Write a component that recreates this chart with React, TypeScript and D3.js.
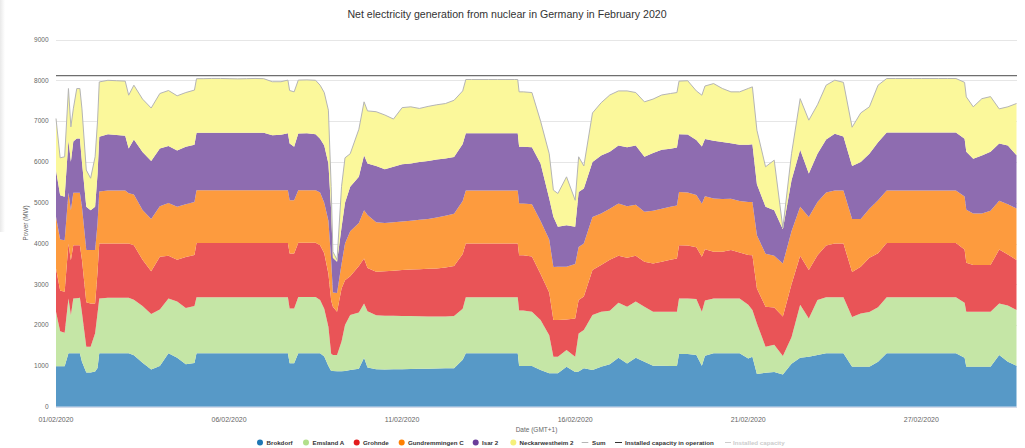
import React from "react";
import * as d3 from "d3";

// Sample times in days after 01/02/2020 00:00 (axis days)
const times = [
  0, 0.12, 0.25, 0.36, 0.43, 0.5, 0.6, 0.69, 0.75, 0.875,
  1.0, 1.13, 1.2, 1.25, 1.5, 1.75, 2.0, 2.1, 2.25, 2.5,
  2.75, 3.0, 3.25, 3.5, 3.75, 4.0, 4.06, 4.25, 4.5, 4.75,
  5.0, 5.25, 5.5, 5.75, 6.0, 6.25, 6.5, 6.7, 6.75, 6.88,
  7.0, 7.25, 7.5, 7.63, 7.75, 7.87, 7.95, 8.0, 8.12, 8.25,
  8.35, 8.5, 8.75, 8.9, 9.0, 9.25, 9.5, 9.75, 10.0, 10.25,
  10.5, 10.75, 11.0, 11.25, 11.5, 11.75, 11.84, 12.0, 12.25, 12.5,
  12.75, 13.0, 13.25, 13.34, 13.38, 13.5, 13.75, 14.0, 14.25, 14.37,
  14.5, 14.75, 15.0, 15.1, 15.25, 15.5, 15.75, 16.0, 16.25, 16.5,
  16.75, 17.0, 17.25, 17.5, 17.75, 17.94, 18.0, 18.25, 18.5, 18.66,
  18.75, 19.0, 19.25, 19.5, 19.75, 20.0, 20.12, 20.25, 20.5, 20.75,
  21.0, 21.25, 21.5, 21.75, 22.0, 22.25, 22.5, 22.75, 23.0, 23.25,
  23.5, 23.75, 24.0, 24.25, 24.5, 24.75, 25.0, 25.25, 25.5, 25.75,
  26.0, 26.25, 26.3, 26.5, 26.75, 27.0, 27.25, 27.5, 27.75,
];

const brokdorf = [
  990, 990, 990, 1310, 1310, 1310, 1310, 1310, 1100, 840,
  840, 860, 948, 1310, 1310, 1310, 1310, 1310, 1260, 1080,
  910, 1000, 1310, 1200, 1040, 1070, 1310, 1310, 1310, 1310,
  1310, 1310, 1310, 1310, 1310, 1310, 1310, 1310, 1063, 1063,
  1310, 1310, 1310, 1310, 1230, 1000, 875, 875, 870, 870,
  875, 900, 930, 1200, 960, 920, 910, 920, 920, 925,
  930, 930, 935, 940, 945, 1150, 1310, 1310, 1310, 1310,
  1310, 1310, 1310, 1310, 1000, 1000, 1000, 900, 820, 820,
  820, 980, 850, 860, 940, 900, 980, 1040, 1200, 1060,
  1200, 1100, 1004, 1004, 1000, 1000, 1290, 1290, 1270, 1004,
  1250, 1310, 1310, 1310, 1310, 1180, 1225, 800, 830, 850,
  790, 1050, 1200, 1225, 1270, 1310, 1310, 1310, 980, 980,
  980, 1100, 1310, 1310, 1310, 1310, 1310, 1310, 1310, 1310,
  1310, 1200, 980, 980, 980, 980, 1265, 1100, 1004,
];
const emslandA = [
  1337, 860, 822, 1344, 935, 1344, 1350, 1360, 1200, 630,
  630, 940, 1342, 1344, 1360, 1360, 1360, 1360, 1360, 1390,
  1360, 1380, 1344, 1380, 1380, 1400, 1370, 1370, 1370, 1370,
  1370, 1370, 1370, 1370, 1370, 1370, 1370, 1370, 1346, 1346,
  1380, 1380, 1380, 1303, 1170, 960, 425, 390, 395, 730,
  1125, 1345, 1380, 1331, 1380, 1320, 1320, 1310, 1300, 1295,
  1285, 1280, 1275, 1270, 1275, 1250, 1370, 1370, 1370, 1370,
  1370, 1370, 1370, 1370, 1360, 1360, 1330, 1223, 930, 405,
  405, 408, 375, 936, 938, 1350, 1347, 1310, 1350, 1390,
  1380, 1350, 1323, 1323, 1327, 1327, 1364, 1364, 1370, 1323,
  1350, 1344, 1344, 1344, 1344, 1320, 1143, 1241, 640, 670,
  450, 650, 1300, 935, 1343, 1370, 1370, 1370, 1220, 1306,
  1340, 1340, 1370, 1370, 1370, 1370, 1370, 1370, 1370, 1370,
  1370, 1350, 1347, 1347, 1347, 1347, 1266, 1380, 1364,
];
const grohnde = [
  1063, 1000, 1008, 1346, 1345, 1306, 1300, 1290, 1300, 1090,
  1061, 731, 1010, 1346, 1330, 1330, 1330, 1330, 1340, 1130,
  1050, 1295, 1046, 1020, 1250, 1250, 1330, 1330, 1330, 1330,
  1330, 1330, 1330, 1330, 1330, 1330, 1330, 1330, 1347, 1347,
  1328, 1328, 1328, 1347, 1360, 1300, 1300, 1185, 1065, 1300,
  1100, 955, 1140, 1103, 1060, 1070, 1090, 1100, 1130, 1140,
  1155, 1170, 1180, 1200, 1230, 1340, 1320, 1320, 1320, 1320,
  1320, 1320, 1320, 1320, 1350, 1350, 1350, 1127, 1050, 898,
  898, 752, 939, 817, 822, 1100, 1143, 1250, 1150, 1200,
  1120, 1102, 1184, 1225, 1273, 1307, 1306, 1296, 1266, 1348,
  1260, 1146, 1146, 1184, 1126, 1220, 1347, 859, 980, 910,
  970, 1300, 1200, 1188, 1102, 1270, 1320, 1320, 1100, 1144,
  1330, 1320, 1330, 1330, 1330, 1330, 1330, 1330, 1330, 1330,
  1330, 1300, 1200, 1143, 1143, 1143, 1319, 1250, 1225,
];
const gundremmingenC = [
  1264, 1250, 1260, 1242, 1228, 1282, 1282, 1282, 1300, 1278,
  1307, 1309, 1191, 1277, 1300, 1300, 1300, 1230, 1240, 1220,
  1280, 1235, 1290, 1300, 1290, 1300, 1295, 1295, 1295, 1295,
  1295, 1295, 1295, 1295, 1295, 1295, 1295, 1295, 1307, 1307,
  1290, 1290, 1290, 1290, 1240, 1300, 1000, 350, 455, 600,
  900, 1100, 1050, 1184, 1300, 1210, 1180, 1190, 1190, 1200,
  1210, 1220, 1250, 1270, 1280, 1300, 1300, 1300, 1300, 1300,
  1300, 1300, 1300, 1300, 1270, 1270, 1280, 1300, 1300, 1300,
  1307, 1290, 1336, 1300, 1301, 1300, 1266, 1250, 1280, 1260,
  1250, 1225, 1289, 1298, 1300, 1300, 1300, 1300, 1280, 1300,
  1300, 1300, 1290, 1260, 1260, 1300, 1300, 1300, 1300, 1270,
  1300, 1300, 1200, 1300, 1300, 1300, 1300, 1300, 1300, 1170,
  1200, 1300, 1290, 1290, 1290, 1290, 1290, 1290, 1290, 1290,
  1290, 1300, 1300, 1266, 1266, 1330, 1200, 1230, 1265,
];
const isar2 = [
  1144, 1080, 1064, 1291, 1184, 1258, 1332, 1330, 1100, 1062,
  980, 1060, 1209, 1337, 1380, 1360, 1340, 1100, 1350, 1420,
  1420, 1420, 1400, 1380, 1410, 1400, 1410, 1410, 1410, 1410,
  1410, 1410, 1410, 1410, 1410, 1350, 1360, 1400, 1387, 1307,
  1390, 1392, 1372, 1320, 1400, 1400, 1200, 850, 765, 900,
  1000, 1090, 1134, 1347, 1261, 1380, 1320, 1360, 1400, 1400,
  1420, 1420, 1420, 1404, 1390, 1400, 1400, 1400, 1400, 1400,
  1400, 1400, 1400, 1400, 1390, 1390, 1400, 1411, 1000, 1231,
  980, 1020, 910, 1350, 1350, 1350, 1420, 1400, 1420, 1450,
  1450, 1348, 1420, 1450, 1420, 1420, 1420, 1420, 1350, 1400,
  1400, 1420, 1400, 1360, 1380, 1400, 1420, 1250, 1150, 1118,
  840, 1253, 1400, 1068, 1185, 1300, 1390, 1320, 1300, 1400,
  1350, 1420, 1420, 1420, 1420, 1420, 1420, 1420, 1420, 1420,
  1420, 1420, 1420, 1344, 1420, 1450, 1400, 1440, 1307,
];
const neckarwestheim2 = [
  1266, 920, 981, 1265, 857, 800, 1224, 1226, 1300, 900,
  782, 1225, 1300, 1346, 1320, 1330, 1340, 1305, 1330, 1300,
  1300, 1346, 1360, 1340, 1330, 1340, 1325, 1325, 1330, 1330,
  1325, 1320, 1325, 1330, 1325, 1310, 1300, 1300, 1300, 1347,
  1307, 1310, 1320, 1310, 1300, 1308, 600, 150, 50, 1000,
  1100, 810, 1166, 1307, 1289, 1330, 1330, 1170, 1390, 1390,
  1310, 1340, 1340, 1346, 1390, 1300, 1319, 1319, 1319, 1319,
  1319, 1319, 1319, 1319, 1347, 1347, 1340, 1039, 1100, 654,
  816, 1184, 650, 862, 550, 1200, 1294, 1390, 1340, 1380,
  1300, 1347, 1320, 1340, 1356, 1346, 1300, 1320, 1204, 1260,
  1300, 1400, 1310, 1259, 1297, 1380, 1404, 1328, 980, 1225,
  30, 647, 1250, 1307, 1200, 1330, 1313, 1330, 950, 1200,
  1150, 1400, 1324, 1324, 1324, 1324, 1324, 1324, 1324, 1324,
  1324, 1380, 1347, 1270, 1394, 1350, 850, 950, 1266,
];

const installedCapacityInOperation = 8113;

const seriesNames = ["Brokdorf", "Emsland A", "Grohnde", "Gundremmingen C", "Isar 2", "Neckarwestheim 2"];
const seriesValues = [brokdorf, emslandA, grohnde, gundremmingenC, isar2, neckarwestheim2];
const areaColors = ["#5799c7", "#c5e6a6", "#e95457", "#fd9b3e", "#8e6cb0", "#fbf89b"];
const markerColors = ["#1f77b4", "#b2df8a", "#e31a1c", "#ff7f00", "#6a3d9a", "#f5f07a"];

const yTicks = [0, 1000, 2000, 3000, 4000, 5000, 6000, 7000, 8000, 9000];
const xTickDays = [0, 5, 10, 15, 20, 25];
const xTickLabels = ["01/02/2020", "06/02/2020", "11/02/2020", "16/02/2020", "21/02/2020", "27/02/2020"];

const W = 1025;
const H = 448;
const FONT = "'Liberation Sans', Arial, sans-serif";

export default function App() {
  const x = d3.scaleLinear().domain([0, 27.75]).range([56, 1016.5]);
  const y = d3.scaleLinear().domain([0, 9000]).range([406.7, 39.5]);

  const rows = times.map((t, i) => {
    const r: any = { t };
    seriesNames.forEach((n, k) => (r[n] = seriesValues[k][i] ?? 0));
    return r;
  });
  const stacked = d3.stack<any>().keys(seriesNames)(rows);
  const area = d3
    .area<any>()
    .x((d) => x(d.data.t))
    .y0((d) => y(d[0]))
    .y1((d) => y(d[1]));
  const sumLine = d3
    .line<any>()
    .x((d) => x(d.data.t))
    .y((d) => y(d[1]));
  const top = stacked[stacked.length - 1];

  const legendItems = [
    { cx: 260, tx: 266.5 },
    { cx: 306, tx: 312.5 },
    { cx: 356.7, tx: 363 },
    { cx: 401.7, tx: 408 },
    { cx: 475.7, tx: 482 },
    { cx: 513.3, tx: 519.5 },
  ];
  const ly = 442.5;

  return (
    <svg
      width={W}
      height={H}
      style={{ position: "absolute", left: 0, top: 0, background: "#fff" }}
      fontFamily={FONT}
    >
      <defs>
        <linearGradient id="edge" x1="0" x2="1" y1="0" y2="0">
          <stop offset="0" stopColor="#e9e9e9" />
          <stop offset="1" stopColor="#ffffff" />
        </linearGradient>
      </defs>
      <rect x={0} y={0} width={W} height={H} fill="#fff" />
      <rect x={0} y={0} width={5} height={232} fill="url(#edge)" />
      <text x={507} y={17.8} textAnchor="middle" fontSize={10.6} fill="#333">
        Net electricity generation from nuclear in Germany in February 2020
      </text>

      {yTicks.map((v) => (
        <g key={v}>
          <line x1={56} x2={1017} y1={Math.round(y(v)) + 0.5} y2={Math.round(y(v)) + 0.5} stroke="#e6e6e6" />
          <text x={48.5} y={y(v)} dy="0.35em" textAnchor="end" fontSize={6.5} fill="#666">
            {v}
          </text>
        </g>
      ))}
      <text transform={`translate(27.5,223) rotate(-90)`} textAnchor="middle" fontSize={6.3} fill="#666">
        Power (MW)
      </text>

      {stacked.map((s, k) => (
        <path key={seriesNames[k]} d={area(s) || ""} fill={areaColors[k]} />
      ))}
      <path d={sumLine(top) || ""} fill="none" stroke="#b5b5b5" strokeWidth={1} />
      <line
        x1={56}
        x2={1017}
        y1={y(installedCapacityInOperation)}
        y2={y(installedCapacityInOperation)}
        stroke="#6e6e6e"
        strokeWidth={1.3}
      />
      <line x1={56} x2={1017} y1={407.2} y2={407.2} stroke="#ccd6eb" />

      {xTickDays.map((d, i) => (
        <text key={d} x={x(d)} y={421.5} textAnchor="middle" fontSize={7} fill="#666">
          {xTickLabels[i]}
        </text>
      ))}
      <text x={536.5} y={432.3} textAnchor="middle" fontSize={6.5} fill="#666">
        Date (GMT+1)
      </text>

      {seriesNames.map((n, k) => (
        <g key={n}>
          <circle cx={legendItems[k].cx} cy={ly} r={3} fill={markerColors[k]} />
          <text x={legendItems[k].tx} y={ly} dy="0.35em" fontSize={6.2} fontWeight="bold" fill="#333">
            {n}
          </text>
        </g>
      ))}
      <line x1={581.7} x2={588.3} y1={ly} y2={ly} stroke="#b5b5b5" strokeWidth={1} />
      <text x={592} y={ly} dy="0.35em" fontSize={6.2} fontWeight="bold" fill="#333">
        Sum
      </text>
      <line x1={615} x2={622} y1={ly} y2={ly} stroke="#333" strokeWidth={1} />
      <text x={625} y={ly} dy="0.35em" fontSize={6.2} fontWeight="bold" fill="#333">
        Installed capacity in operation
      </text>
      <line x1={725} x2={731} y1={ly} y2={ly} stroke="#cccccc" strokeWidth={1} />
      <text x={733} y={ly} dy="0.35em" fontSize={6.2} fontWeight="bold" fill="#cccccc">
        Installed capacity
      </text>
    </svg>
  );
}
